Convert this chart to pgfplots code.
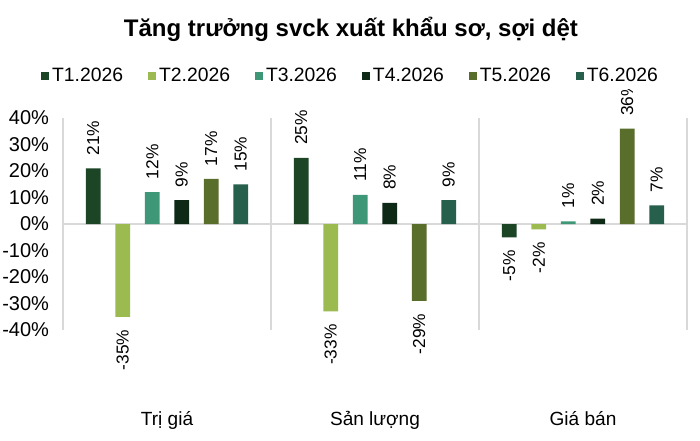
\documentclass[border=0pt]{standalone}
\usepackage{pgfplots}
\pgfplotsset{compat=1.18}
\usepackage{fontspec}
\setmainfont{Liberation Sans}
\definecolor{cA}{HTML}{1C4526}
\definecolor{cB}{HTML}{9BBB50}
\definecolor{cC}{HTML}{3E9878}
\definecolor{cD}{HTML}{0E2A16}
\definecolor{cE}{HTML}{5A6E2C}
\definecolor{cF}{HTML}{26604C}
\definecolor{gridgray}{HTML}{D9D9D9}
\begin{document}
\begin{tikzpicture}
\path[use as bounding box] (-47.25pt,-82.5pt) rectangle (477.75pt,247.5pt);
\begin{axis}[
  at={(0,0)}, anchor=south west,
  scale only axis, width=468pt, height=159pt,
  ybar, bar width=0.072,
  xmin=-0.5, xmax=2.5, ymin=-40, ymax=40,
  axis line style={draw=none},
  /pgf/number format/assume math mode=true,
  ytick={-40,-30,...,40},
  yticklabel={\pgfmathprintnumber{\tick}\%},
  ytick style={draw=none},
  yticklabel style={font=\fontsize{15}{18}\selectfont, xshift=-7pt},
  xtick={0,1,2},
  xticklabels={Trị giá, Sản lượng, Giá bán},
  xtick style={draw=none},
  xticklabel style={font=\fontsize{14.3}{17}\selectfont, yshift=-53pt},
  extra x ticks={-0.5,0.5,1.5,2.5},
  extra x tick labels={},
  extra x tick style={grid=major, tick style={draw=none}},
  major grid style={draw=gridgray, line width=1.1pt},
  title={\bfseries Tăng trưởng svck xuất khẩu sơ, sợi dệt},
  title style={at={(axis description cs:0.4615,1.38)}, anchor=center, font=\fontsize{18}{21}\selectfont},
  legend columns=6,
  legend style={at={(axis description cs:0.4615,1.198)}, anchor=center, draw=none,
    font=\fontsize{14.5}{17}\selectfont,
    /tikz/every even column/.append style={column sep=17pt}},
  legend image code/.code={\fill[#1] (0pt,-3pt) rectangle (6pt,3pt);},
  nodes near coords={\rotatebox{90}{\pgfmathprintnumber{\pgfplotspointmeta}\%}},
  nodes near coords align={vertical},
  nodes near coords style={font=\fontsize{13}{15}\selectfont, inner ysep=9.5pt, black},
]
\draw[gridgray, line width=1.1pt] (axis cs:-0.5,0) -- (axis cs:2.5,0);
\addplot[fill=cA, draw=none, bar shift=-0.3546] coordinates {(0,21) (1,25) (2,-5)};
\addplot[fill=cB, draw=none, bar shift=-0.2127] coordinates {(0,-35) (1,-33) (2,-2)};
\addplot[fill=cC, draw=none, bar shift=-0.0709] coordinates {(0,12) (1,11) (2,1)};
\addplot[fill=cD, draw=none, bar shift=0.0709] coordinates {(0,9) (1,8) (2,2)};
\addplot[fill=cE, draw=none, bar shift=0.2127] coordinates {(0,17) (1,-29) (2,36)};
\addplot[fill=cF, draw=none, bar shift=0.3546] coordinates {(0,15) (1,9) (2,7)};
\legend{T1.2026,T2.2026,T3.2026,T4.2026,T5.2026,T6.2026}
\end{axis}
\end{tikzpicture}
\end{document}
